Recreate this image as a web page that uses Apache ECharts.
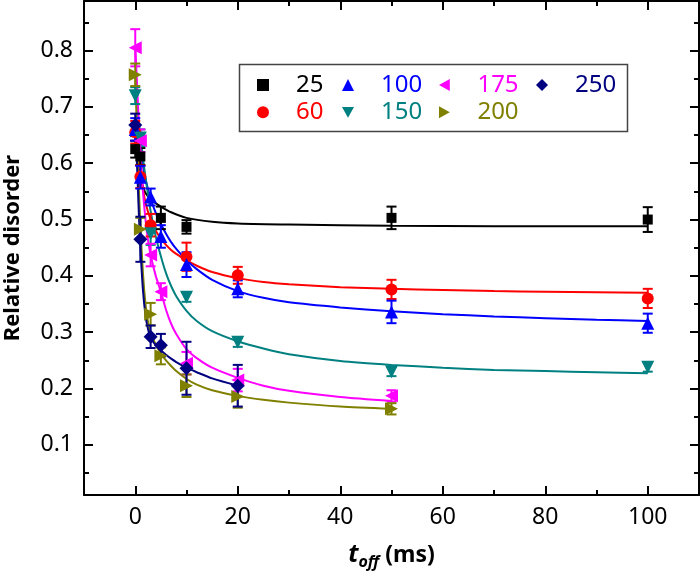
<!DOCTYPE html>
<html><head><meta charset="utf-8">
<script src="https://cdn.jsdelivr.net/npm/echarts@6/dist/echarts.min.js"></script>
<style>html,body{margin:0;padding:0;background:#fff}#c{width:700px;height:574px}</style>
</head><body><div id="c"></div>
<script>
// ---- data ----
const seriesNames = ['25', '60', '100', '150', '175', '200', '250'];
const seriesColors = ['#000000', '#ff0000', '#0000ff', '#008080', '#ff00ff', '#808000', '#000080'];

const x25 = [0, 1, 5, 10, 50, 100];
const y25 = [0.625, 0.612, 0.503, 0.487, 0.503, 0.500];
const e25 = [0.015, 0.015, 0.02, 0.012, 0.02, 0.022];

const x60 = [0, 1, 3, 10, 20, 50, 100];
const y60 = [0.655, 0.576, 0.490, 0.434, 0.401, 0.376, 0.360];
const e60 = [0.02, 0.02, 0.02, 0.025, 0.015, 0.017, 0.017];

const x100 = [0, 1, 3, 5, 10, 20, 50, 100];
const y100 = [0.660, 0.575, 0.540, 0.470, 0.420, 0.377, 0.336, 0.316];
const e100 = [0.02, 0.02, 0.015, 0.02, 0.022, 0.015, 0.02, 0.017];

const x150 = [0, 1, 3, 10, 20, 50, 100];
const y150 = [0.720, 0.645, 0.475, 0.362, 0.282, 0.230, 0.238];
const e150 = [0.015, 0.015, 0.02, 0.008, 0.008, 0.008, 0.008];

const x175 = [0, 1, 3, 5, 10, 20, 50];
const y175 = [0.805, 0.640, 0.437, 0.372, 0.245, 0.215, 0.187];
const e175 = [0.033, 0.02, 0.02, 0.015, 0.02, 0.02, 0.01];

const x200 = [0, 1, 3, 5, 10, 20, 50];
const y200 = [0.757, 0.483, 0.332, 0.258, 0.205, 0.186, 0.164];
const e200 = [0.02, 0.02, 0.02, 0.015, 0.02, 0.02, 0.01];

const x250 = [0, 1, 3, 5, 10, 20];
const y250 = [0.668, 0.465, 0.292, 0.277, 0.236, 0.205];
const e250 = [0.02, 0.04, 0.02, 0.02, 0.047, 0.037];

// fitted curves
const fx25 = [0, 0.5, 1, 1.5, 2, 3, 4, 5, 7, 10, 15, 20, 30, 50, 70, 100];
const fy25 = [0.64, 0.60, 0.575, 0.558, 0.547, 0.536, 0.529, 0.523, 0.513, 0.503, 0.496, 0.493, 0.491, 0.489, 0.488, 0.488];

const fx60 = [0, 0.5, 1, 1.5, 2, 3, 4, 5, 6, 7, 8, 10, 12, 15, 20, 25, 30, 40, 50, 60, 70, 80, 90, 100];
const fy60 = [0.66, 0.62, 0.585, 0.555, 0.53, 0.50, 0.48, 0.466, 0.455, 0.446, 0.439, 0.428, 0.418, 0.407, 0.396, 0.389, 0.385, 0.380, 0.377, 0.375, 0.373, 0.372, 0.371, 0.370];

const fx100 = [0, 0.5, 1, 1.5, 2, 3, 4, 5, 6, 7, 8, 10, 12, 15, 20, 25, 30, 40, 50, 60, 70, 80, 90, 100];
const fy100 = [0.68, 0.65, 0.62, 0.595, 0.572, 0.537, 0.512, 0.492, 0.475, 0.46, 0.448, 0.428, 0.412, 0.393, 0.373, 0.361, 0.353, 0.344, 0.337, 0.332, 0.328, 0.325, 0.322, 0.320];

const fx150 = [0, 0.5, 1, 1.5, 2, 3, 4, 5, 6, 7, 8, 10, 12, 15, 20, 25, 30, 40, 50, 60, 70, 80, 90, 100];
const fy150 = [0.73, 0.69, 0.65, 0.61, 0.575, 0.515, 0.47, 0.435, 0.405, 0.382, 0.364, 0.338, 0.32, 0.302, 0.284, 0.271, 0.261, 0.249, 0.242, 0.237, 0.233, 0.231, 0.229, 0.227];

const fx175 = [0, 0.25, 0.5, 0.75, 1, 1.5, 2, 2.5, 3, 4, 5, 6, 7, 8, 10, 12, 15, 20, 25, 30, 40, 50];
const fy175 = [0.81, 0.76, 0.71, 0.66, 0.62, 0.55, 0.50, 0.463, 0.437, 0.40, 0.372, 0.34, 0.315, 0.297, 0.27, 0.254, 0.237, 0.219, 0.205, 0.196, 0.185, 0.178];

const fx200 = [0, 0.25, 0.5, 0.75, 1, 1.5, 2, 2.5, 3, 4, 5, 6, 7, 8, 10, 12, 15, 20, 25, 30, 40, 50];
const fy200 = [0.76, 0.68, 0.61, 0.545, 0.49, 0.405, 0.35, 0.318, 0.30, 0.278, 0.262, 0.25, 0.24, 0.231, 0.217, 0.207, 0.197, 0.187, 0.18, 0.175, 0.168, 0.164];

const fx250 = [0, 0.25, 0.5, 0.75, 1, 1.5, 2, 2.5, 3, 4, 5, 6, 7, 8, 10, 12, 15, 20];
const fy250 = [0.68, 0.62, 0.56, 0.50, 0.45, 0.375, 0.33, 0.305, 0.29, 0.277, 0.268, 0.26, 0.253, 0.247, 0.237, 0.229, 0.218, 0.205];

const xMajor = [0, 20, 40, 60, 80, 100];
const xMinor = [-10, 10, 30, 50, 70, 90, 110];
const yMajor = [0.1, 0.2, 0.3, 0.4, 0.5, 0.6, 0.7, 0.8];
const yMinor = [0.05, 0.15, 0.25, 0.35, 0.45, 0.55, 0.65, 0.75, 0.85];

// ---- build ----
const FONT = '"Noto Sans", "Open Sans", sans-serif';
const points = [
  [x25, y25, e25], [x60, y60, e60], [x100, y100, e100], [x150, y150, e150],
  [x175, y175, e175], [x200, y200, e200], [x250, y250, e250]
];
const fits = [[fx25, fy25], [fx60, fy60], [fx100, fy100], [fx150, fy150], [fx175, fy175], [fx200, fy200], [fx250, fy250]];
const symbols = ['rect', 'circle', 'triangle', 'triangle', 'triangle', 'triangle', 'diamond'];
const rotations = [0, 0, 0, 180, 90, -90, 0];
const sizes = [10, 12, 13, 13, 13, 13, 14];
const legendIcons = ['rect', 'circle', 'triangle',
  'path://M0,0L10,0L5,9Z', 'path://M10,0L10,10L1,5Z', 'path://M0,0L0,10L9,5Z', 'diamond'];

const XMIN = -10, XMAX = 110, YMIN = 0.011, YMAX = 0.888;

function xAxis(pos, ticks, len, withLabels, showLine) {
  return {
    type: 'value', position: pos, min: XMIN, max: XMAX, gridIndex: 0,
    axisLine: { show: showLine, onZero: false, lineStyle: { color: '#000', width: 2 } },
    axisTick: { show: true, inside: true, length: len, customValues: ticks, lineStyle: { color: '#000', width: 2 } },
    axisLabel: withLabels ? { show: true, customValues: xMajor, fontSize: 23, color: '#000', fontFamily: FONT, margin: 11 } : { show: false },
    splitLine: { show: false }
  };
}
function yAxis(pos, ticks, len, withLabels, showLine) {
  return {
    type: 'value', position: pos, min: YMIN, max: YMAX, gridIndex: 0,
    axisLine: { show: showLine, onZero: false, lineStyle: { color: '#000', width: 2 } },
    axisTick: { show: true, inside: true, length: len, customValues: ticks, lineStyle: { color: '#000', width: 2 } },
    axisLabel: withLabels ? { show: true, customValues: yMajor, fontSize: 23, color: '#000', fontFamily: FONT, margin: 11,
      formatter: v => v.toFixed(1) } : { show: false },
    splitLine: { show: false }
  };
}

const xAxes = [
  xAxis('bottom', xMajor, 9, true, true),
  xAxis('bottom', xMinor, 5, false, false),
  xAxis('top', xMajor, 9, false, true),
  xAxis('top', xMinor, 5, false, false)
];
xAxes[0].name = '{t|t}{off|off}{ms| (ms)}';
xAxes[0].nameLocation = 'middle';
xAxes[0].nameGap = 45;
xAxes[0].nameTextStyle = {
  fontFamily: FONT, color: '#000',
  rich: {
    t: { fontSize: 25, fontStyle: 'italic', fontWeight: 'bold', fontFamily: FONT, color: '#000' },
    off: { fontSize: 16, fontStyle: 'italic', fontWeight: 'bold', fontFamily: FONT, color: '#000', padding: [14, 0, 0, 0] },
    ms: { fontSize: 23, fontWeight: 'bold', fontFamily: FONT, color: '#000' }
  }
};
const yAxes = [
  yAxis('left', yMajor, 9, true, true),
  yAxis('left', yMinor, 5, false, false),
  yAxis('right', yMajor, 9, false, true),
  yAxis('right', yMinor, 5, false, false)
];
yAxes[0].name = 'Relative disorder';
yAxes[0].nameLocation = 'middle';
yAxes[0].nameGap = 60;
yAxes[0].nameTextStyle = { fontFamily: FONT, fontSize: 22, fontWeight: 'bold', color: '#000' };

const series = [];
fits.forEach((f, i) => {
  series.push({
    name: 'fit' + seriesNames[i], type: 'line', xAxisIndex: 0, yAxisIndex: 0,
    data: f[0].map((x, k) => [x, f[1][k]]),
    showSymbol: false, smooth: 0.25,
    lineStyle: { color: seriesColors[i], width: 2 }, z: 2, silent: true
  });
});
points.forEach((p, i) => {
  const col = seriesColors[i];
  series.push({
    name: 'err' + seriesNames[i], type: 'custom', xAxisIndex: 0, yAxisIndex: 0, z: 3, silent: true,
    data: p[0].map((x, k) => [x, p[1][k], p[2][k]]),
    encode: { x: 0, y: 1 },
    renderItem: (params, api) => {
      const x = api.value(0), y = api.value(1), e = api.value(2);
      const t = api.coord([x, y + e]), b = api.coord([x, y - e]);
      const hw = 5;
      const st = { stroke: col, lineWidth: 2 };
      return { type: 'group', children: [
        { type: 'line', shape: { x1: t[0], y1: t[1], x2: b[0], y2: b[1] }, style: st },
        { type: 'line', shape: { x1: t[0] - hw, y1: t[1], x2: t[0] + hw, y2: t[1] }, style: st },
        { type: 'line', shape: { x1: b[0] - hw, y1: b[1], x2: b[0] + hw, y2: b[1] }, style: st }
      ] };
    }
  });
});
points.forEach((p, i) => {
  series.push({
    name: seriesNames[i], type: 'scatter', xAxisIndex: 0, yAxisIndex: 0, z: 4,
    data: p[0].map((x, k) => [x, p[1][k]]),
    symbol: symbols[i], symbolRotate: rotations[i], symbolSize: sizes[i],
    itemStyle: { color: seriesColors[i], opacity: 1 }
  });
});

const legendCols = [[0, 1], [2, 3], [4, 5], [6]];
const legendLeft = [257, 342, 439, 536];
const legends = legendCols.map((idx, c) => ({
  orient: 'vertical', left: legendLeft[c], top: 73, padding: 0, itemGap: 3.3,
  itemWidth: 12, itemHeight: 12, selectedMode: false, symbolKeepAspect: true,
  textStyle: { fontSize: 24, fontFamily: FONT, lineHeight: 24, padding: [0, 0, 0, 22] },
  data: idx.map(i => ({ name: seriesNames[i], icon: legendIcons[i], textStyle: { color: seriesColors[i] } }))
}));

const chart = echarts.init(document.getElementById('c'), null, { renderer: 'canvas' });
chart.setOption({
  animation: false,
  backgroundColor: '#fff',
  grid: { left: 84, right: 1, top: 1, bottom: 79, containLabel: false, outerBoundsMode: 'none' },
  xAxis: xAxes,
  yAxis: yAxes,
  legend: legends,
  graphic: [{ type: 'rect', left: 237, top: 62, shape: { width: 388, height: 67 },
    style: { fill: 'none', stroke: '#444', lineWidth: 1.5 }, z: 10 }],
  series: series
});
</script>
</body></html>
